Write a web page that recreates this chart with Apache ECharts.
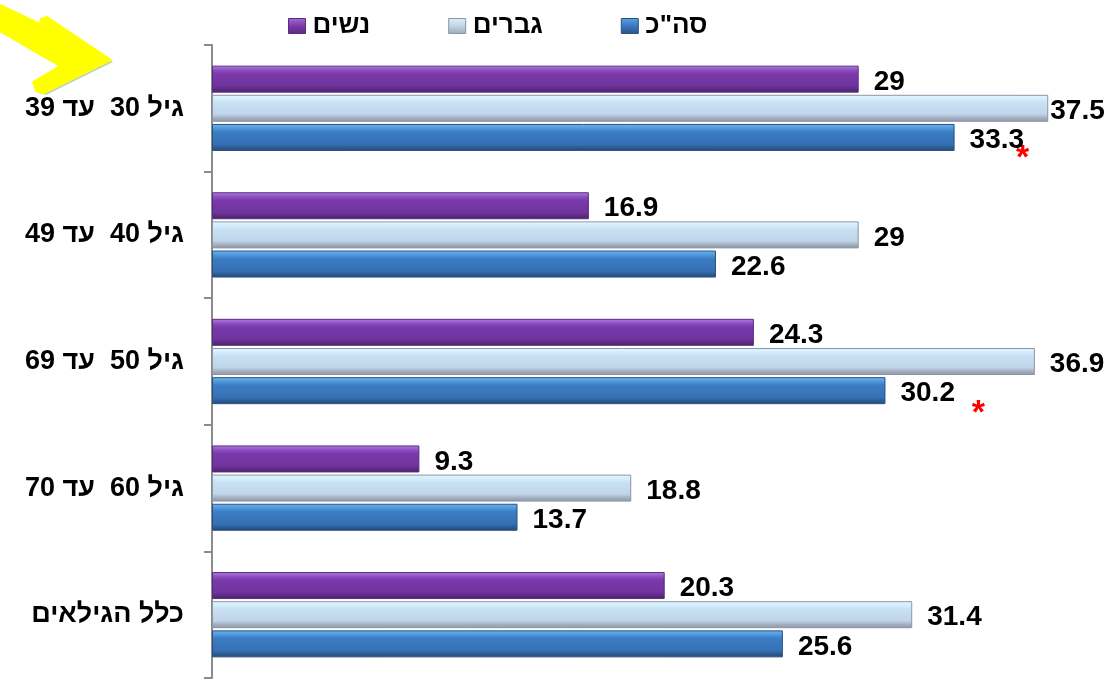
<!DOCTYPE html>
<html>
<head>
<meta charset="utf-8">
<script src="https://cdn.jsdelivr.net/npm/echarts@6/dist/echarts.min.js"></script>
<style>html,body{margin:0;padding:0;background:#fff;}#c{width:1117px;height:681px;}</style>
</head>
<body>
<div id="c"></div>
<script>
const categories = ['גיל 30  עד 39', 'גיל 40  עד 49', 'גיל 50  עד 69', 'גיל 60  עד 70', 'כלל הגילאים'];
const seriesNames = ['נשים', 'גברים', 'סה"כ'];
const women = [29, 16.9, 24.3, 9.3, 20.3];
const men = [37.5, 29, 36.9, 18.8, 31.4];
const total = [33.3, 22.6, 30.2, 13.7, 25.6];
const starred = [[2, 0], [2, 2]]; // [series index, category index] marked with red *

const grad = (stops) => new echarts.graphic.LinearGradient(0, 0, 0, 1, stops.map((c, i) => ({offset: c[0], color: c[1]})));
const purpleFill = grad([[0, '#b07ee0'], [0.18, '#8a4cc0'], [0.3, '#7a3aaa'], [0.75, '#70349e'], [0.88, '#5a2a80'], [1, '#4a2268']]);
const lightFill = grad([[0, '#e4f6ff'], [0.18, '#d2ecfa'], [0.3, '#c8e0f4'], [0.72, '#c0d4ea'], [0.86, '#a4b0c0'], [1, '#8c98a8']]);
const blueFill = grad([[0, '#6cb8f2'], [0.18, '#4c94d8'], [0.3, '#3c7cc4'], [0.75, '#3670b4'], [0.88, '#2c5a92'], [1, '#244a78']]);
const fills = [purpleFill, lightFill, blueFill];
const legendFills = [
  grad([[0, '#a070d0'], [0.5, '#7a3aaa'], [1, '#5a2a80']]),
  grad([[0, '#e0eef8'], [0.5, '#c4d4e6'], [1, '#9ca8b8']]),
  grad([[0, '#5aa4e4'], [0.5, '#3a78c0'], [1, '#2a5488']])
];
const borders = ['#5a2a80', '#8a96a6', '#2a5080'];
const values = [women, men, total];

const labelFont = {fontFamily: 'Liberation Sans, Arial, sans-serif', fontWeight: 'bold', fontSize: 28, color: '#000'};

const chart = echarts.init(document.getElementById('c'), null, {renderer: 'canvas'});
const option = {
  animation: false,
  backgroundColor: '#fff',
  legend: {
    data: seriesNames.map((n, i) => ({name: n, icon: 'rect', itemStyle: {color: legendFills[i], borderColor: borders[i], borderWidth: 1}})),
    left: 283, top: 8,
    itemWidth: 17, itemHeight: 15, itemGap: 78,
    textStyle: {fontFamily: 'Liberation Sans, Arial, sans-serif', fontWeight: 'bold', fontSize: 26, color: '#000', padding: [0, 0, 0, 2]}
  },
  grid: {left: 212, right: 13, top: 45, bottom: 3, containLabel: false},
  xAxis: {type: 'value', min: 0, max: 40, show: false},
  yAxis: {
    type: 'category', data: categories, inverse: true,
    axisLine: {show: true, lineStyle: {color: '#8c8c8c', width: 2}},
    axisTick: {show: true, length: 8, lineStyle: {color: '#8c8c8c', width: 2}},
    axisLabel: Object.assign({margin: 28}, labelFont, {fontSize: 27})
  },
  series: seriesNames.map((n, i) => ({
    name: n, type: 'bar', barWidth: 27, barGap: '8%',
    itemStyle: {color: fills[i], borderColor: borders[i], borderWidth: 1},
    label: Object.assign({show: true, position: 'right', distance: 15, offset: [0, 3]}, labelFont),
    data: values[i].map((v, j) => (i === 1 && v === 37.5) ? {value: v, label: {distance: 2}} : v)
  }))
};
chart.setOption(option);

// red asterisk annotations next to the starred labels
const starOffsets = [[68, 4], [93, 6]];
const graphics = starred.map((s, k) => {
  const v = values[s[0]][s[1]];
  const p = chart.convertToPixel({gridIndex: 0}, [v, s[1]]);
  const barOffset = (s[0] - 1) * (27 + 27 * 0.08);
  return {type: 'text', x: p[0] + starOffsets[k][0], y: p[1] + barOffset + starOffsets[k][1],
    style: {text: '*', fill: '#ff0000', font: 'bold 34px Liberation Sans, Arial, sans-serif', textAlign: 'center', textVerticalAlign: 'top'}};
});
// decorative yellow arrow (top-left)
const arrowPts = [[0, 5], [40, 24], [41, 19], [47, 17], [111, 60], [44, 93], [36, 91], [33, 82], [60, 66], [0, 31]];
graphics.push({type: 'polygon', shape: {points: arrowPts.map(p => [p[0] + 2, p[1] + 2])}, style: {fill: '#b8d4c8', lineJoin: 'round'}});
graphics.push({type: 'polygon', shape: {points: arrowPts}, style: {fill: '#ffff00', stroke: '#ffff00', lineWidth: 2, lineJoin: 'round'}});
chart.setOption({graphic: graphics});
</script>
</body>
</html>
